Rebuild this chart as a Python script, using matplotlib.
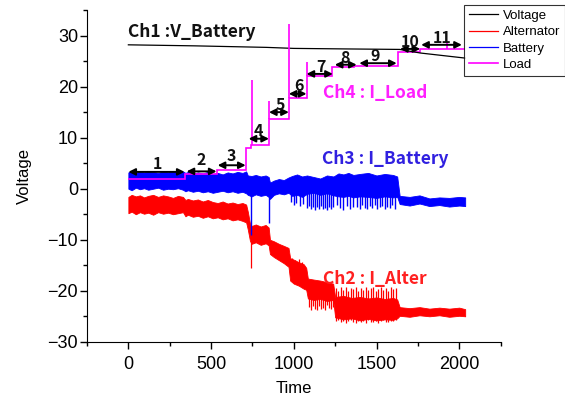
import matplotlib
matplotlib.use('Agg')
from matplotlib import pyplot as plt

# Ch1 battery voltage
volt_t = [0, 400, 835, 1000, 1300, 1640, 1764, 1900, 2036]
volt_v = [28.2, 28.0, 27.7, 27.5, 27.4, 27.3, 26.6, 26.1, 25.6]

# Ch4 load current, step levels between the edges
load_edges = [0, 343, 534, 712, 740, 850, 970, 1077, 1232, 1365, 1632, 1764, 2036]
load_levels = [1.9, 2.9, 3.7, 8.0, 8.6, 13.6, 17.7, 22.0, 23.9, 24.1, 26.7, 27.3]
load_spk_t = [745, 850, 970, 1077, 1925]
load_spk_lo = [8.6, 13.6, 17.7, 22.0, 27.3]
load_spk_hi = [21.4, 17.1, 32.2, 24.8, 28.6]

# Ch3 battery current (upper / lower envelope of the trace)
bat_t = [0, 20, 45, 70, 95, 120, 150, 180, 210, 240, 270, 300, 330,
         345, 360, 390, 420, 450, 480, 510, 540, 570, 600, 630, 660, 690,
         712, 722, 745, 770, 800, 830, 848,
         856, 880, 910, 940, 968,
         990, 1020, 1050, 1080, 1120, 1160, 1200, 1240, 1270, 1300, 1330, 1360,
         1400, 1450, 1500, 1550, 1600, 1625,
         1640, 1700, 1760, 1820, 1880, 1940, 2000, 2036]
bat_hi = [3.2, 3.5, 3.1, 3.4, 3.2, 3.5, 3.3, 3.1, 3.4, 3.2, 3.5, 3.3, 3.4,
          3.1, 3.3, 2.9, 3.2, 3.0, 3.3, 2.9, 3.1, 2.8, 3.2, 3.0, 3.3, 3.1,
          3.4, 2.6, 2.5, 2.7, 2.4, 2.6, 2.3,
          1.2, 1.6, 1.9, 1.7, 2.2,
          2.5, 2.8, 2.4, 2.6, 2.3, 2.0, 2.6, 2.4, 3.0, 2.8, 3.1, 2.7,
          2.9, 3.1, 2.6, 2.9, 2.7, 2.4,
          -1.4, -1.6, -1.3, -1.9, -1.7, -1.8, -1.6, -1.7]
bat_lo = [0.0, -0.3, 0.2, -0.1, 0.1, -0.2, 0.0, 0.2, -0.2, 0.0, -0.1, 0.1, -0.2,
          -0.5, -0.3, -0.6, -0.4, -0.7, -0.5, -0.8, -0.6, -0.4, -0.7, -0.5, -0.8, -0.6,
          -0.9, -1.2, -1.5, -1.1, -1.4, -1.2, -1.6,
          -2.0, -1.2, -0.9, -1.1, -0.8,
          -1.4, -1.2, -1.6, -1.0, -0.8, -1.2, -0.9, -1.3, -1.5, -1.6, -1.4, -1.7,
          -1.5, -1.6, -1.8, -1.5, -1.7, -1.6,
          -3.0, -3.3, -2.9, -3.4, -3.2, -3.5, -3.3, -3.4]
bat_spk_t = [743, 848, 985, 1000, 1015, 1035, 1055,
             1080, 1092, 1104, 1116, 1128, 1140, 1152, 1164, 1176, 1188, 1200, 1212, 1224, 1236,
             1260, 1280, 1300, 1320, 1340, 1360,
             1385, 1400, 1415, 1430, 1445, 1460, 1475, 1490, 1505, 1520, 1535, 1550, 1565, 1580, 1595, 1610]
bat_spk_lo = [-9.0, -6.7, -2.6, -3.1, -2.8, -3.3, -3.0,
              -3.8, -3.4, -4.0, -3.6, -4.1, -3.5, -3.9, -3.3, -4.0, -3.7, -4.1, -3.5, -3.9, -3.6,
              -3.2, -3.8, -4.1, -3.4, -3.9, -3.6,
              -3.5, -3.9, -3.2, -3.7, -4.0, -3.4, -3.8, -3.1, -3.9, -3.6, -3.3, -4.0, -3.5, -3.8, -3.2, -3.9]

# Ch2 alternator current
alt_t = [0, 20, 45, 70, 95, 120, 150, 180, 210, 240, 270, 300, 330,
         345, 360, 390, 420, 450, 480, 510, 540, 570, 600, 630, 660, 690,
         712, 722, 735, 745, 770, 800, 830, 848,
         856, 880, 910, 940, 968,
         978, 1000, 1030, 1060, 1075,
         1085, 1120, 1160, 1200, 1238,
         1250, 1300, 1350, 1400, 1450, 1500, 1550, 1600, 1625,
         1640, 1700, 1760, 1820, 1880, 1940, 2000, 2036]
alt_hi = [-1.6, -1.2, -1.5, -1.3, -1.7, -1.4, -1.2, -1.6, -1.3, -1.5, -1.8, -1.4, -1.6,
          -2.2, -2.0, -2.3, -2.1, -2.5, -2.2, -2.6, -2.8, -2.5, -2.9, -2.7, -3.0, -2.8,
          -3.1, -4.5, -6.8, -7.3, -7.0, -7.4, -7.1, -7.6,
          -10.0, -10.3, -10.8, -11.2, -11.6,
          -13.6, -13.9, -14.4, -14.8, -15.5,
          -17.6, -17.8, -18.0, -18.3, -18.6,
          -21.2, -21.0, -21.4, -21.2, -21.5, -21.3, -21.6, -21.4, -21.7,
          -23.2, -23.4, -23.2, -23.5, -23.3, -23.5, -23.3, -23.6]
alt_lo = [-4.8, -4.5, -5.0, -4.6, -4.9, -4.7, -5.1, -4.6, -4.9, -4.7, -5.0, -4.8, -4.6,
          -5.4, -5.1, -5.5, -5.3, -5.7, -5.4, -5.8, -5.6, -6.0, -5.8, -6.2, -6.0, -6.3,
          -6.6, -8.0, -10.2, -10.8, -10.5, -11.0, -10.7, -11.1,
          -12.8, -13.4, -14.0, -14.6, -15.3,
          -18.0, -18.6, -19.0, -19.6, -19.8,
          -21.5, -21.8, -21.6, -22.0, -21.8,
          -25.2, -25.6, -25.4, -25.8, -25.5, -25.8, -25.6, -25.7, -25.4,
          -24.9, -25.1, -24.8, -25.0, -24.8, -25.1, -24.9, -25.0]
alt_spk_t = [743, 990, 1010, 1030, 1050,
             1090, 1102, 1114, 1126, 1138, 1150, 1162, 1174, 1186, 1198, 1210, 1222, 1234,
             1255, 1270, 1285, 1300, 1315, 1330, 1345, 1360, 1375, 1390, 1405, 1420, 1435,
             1450, 1465, 1480, 1495, 1510, 1525, 1540, 1555, 1570, 1585, 1600, 1615]
alt_spk_lo = [-15.6, -16.0, -16.5, -16.2, -17.0,
              -23.2, -23.7, -22.9, -23.5, -23.7, -23.0, -23.6, -23.3, -23.7, -22.8, -23.4, -23.6, -23.1,
              -26.0, -25.8, -26.2, -25.9, -26.3, -26.0, -25.7, -26.1, -26.3, -25.9, -26.2, -26.0, -26.3,
              -25.8, -26.1, -26.2, -25.9, -26.3, -26.0, -25.8, -26.1, -26.2, -25.9, -26.0, -25.8]
alt_spk_hi = [-10.0, -13.6, -14.0, -13.8, -14.3,
              -19.0, -19.5, -18.8, -19.3, -19.6, -18.9, -19.4, -19.1, -19.7, -19.2, -19.5, -19.0, -19.6,
              -19.4, -20.0, -19.2, -19.8, -19.3, -20.1, -19.5, -19.6, -19.2, -20.0, -19.4, -19.8, -19.3,
              -19.9, -19.5, -19.2, -20.1, -19.6, -19.3, -19.8, -19.4, -20.0, -19.3, -19.7, -19.5]

# step annotations: arrow start, arrow end, arrow height, label position
step_names = ['1', '2', '3', '4', '5', '6', '7', '8', '9', '10', '11']
arrow_t0 = [0, 352, 540, 727, 850, 970, 1077, 1248, 1396, 1642, 1770]
arrow_t1 = [340, 533, 709, 850, 970, 1077, 1236, 1380, 1622, 1764, 2016]
arrow_v = [3.3, 3.4, 4.6, 9.8, 15.0, 18.6, 22.5, 24.3, 24.6, 27.4, 28.2]
name_t = [178, 440, 622, 786, 921, 1030, 1164, 1309, 1491, 1703, 1897]
name_v = [4.9, 5.7, 6.4, 11.4, 16.5, 20.2, 23.9, 25.6, 26.1, 28.8, 29.5]

plt.rcParams['font.family'] = ['Liberation Sans', 'DejaVu Sans']

fig = plt.figure(figsize=(5.65, 4.05), dpi=100)
ax = fig.add_axes([0.154, 0.156, 0.732, 0.819])

ax.plot(volt_t, volt_v, color='black', lw=0.9, label='Voltage')

ax.fill_between(alt_t, alt_lo, alt_hi, color='red', lw=0.6, edgecolor='red')
ax.vlines(alt_spk_t, alt_spk_lo, alt_spk_hi, color='red', lw=0.9)
ax.plot([], [], color='red', lw=0.9, label='Alternator')

ax.fill_between(bat_t, bat_lo, bat_hi, color='blue', lw=0.6, edgecolor='blue')
ax.vlines(bat_spk_t, bat_spk_lo, 0.5, color='blue', lw=1.0)
ax.plot([], [], color='blue', lw=0.9, label='Battery')

ax.stairs(load_levels, load_edges, color='magenta', lw=1.2, baseline=None, label='Load')
ax.vlines(load_spk_t, load_spk_lo, load_spk_hi, color='magenta', lw=1.2)

for t0, t1, v in zip(arrow_t0, arrow_t1, arrow_v):
    ax.annotate('', xy=(t1, v), xytext=(t0, v),
                arrowprops=dict(arrowstyle='<|-|>', color='black', lw=1.4,
                                mutation_scale=10, shrinkA=0, shrinkB=0))
for s, t, v in zip(step_names, name_t, name_v):
    ax.text(t, v, s, ha='center', va='center', fontsize=11.5, fontweight='bold',
            family='Noto Sans CJK KR', color='#111111')

label_style = dict(fontsize=12.5, fontweight='bold', family='Noto Sans CJK KR', va='center')
ax.text(0, 30.8, 'Ch1 :V_Battery', color='#111111', **label_style)
ax.text(1176, 18.8, 'Ch4 : I_Load', color='#ff1fff', **label_style)
ax.text(1170, 5.9, 'Ch3 : I_Battery', color='#3020e0', **label_style)
ax.text(1176, -17.6, 'Ch2 : I_Alter', color='#ff2020', **label_style)

ax.set_xlim(-250, 2250)
ax.set_ylim(-30, 35)
ax.set_xticks([0, 500, 1000, 1500, 2000])
ax.set_xticks([-250, 250, 750, 1250, 1750, 2250], minor=True)
ax.set_yticks([-30, -20, -10, 0, 10, 20, 30])
ax.set_yticks([-25, -15, -5, 5, 15, 25, 35], minor=True)
ax.tick_params(which='major', length=5, width=1, labelsize=13, direction='out')
ax.tick_params(which='minor', length=3, width=1, direction='out')
ax.tick_params(axis='x', which='major', pad=5)
ax.tick_params(axis='y', which='major', pad=1.5)
ax.spines['top'].set_visible(False)
ax.spines['right'].set_visible(False)
ax.set_xlabel('Time', fontsize=12, labelpad=6)
ax.set_ylabel('Voltage', fontsize=12, labelpad=11)

leg = ax.legend(loc='upper right', bbox_to_anchor=(1.0, 0.988), bbox_transform=fig.transFigure,
                fontsize=9.5, frameon=True, fancybox=False, handlelength=2.2,
                labelspacing=0.32, borderpad=0.35, handletextpad=0.4, borderaxespad=0)
leg.get_frame().set_edgecolor('black')
leg.get_frame().set_linewidth(0.8)

fig.savefig('out.png', dpi=100)
